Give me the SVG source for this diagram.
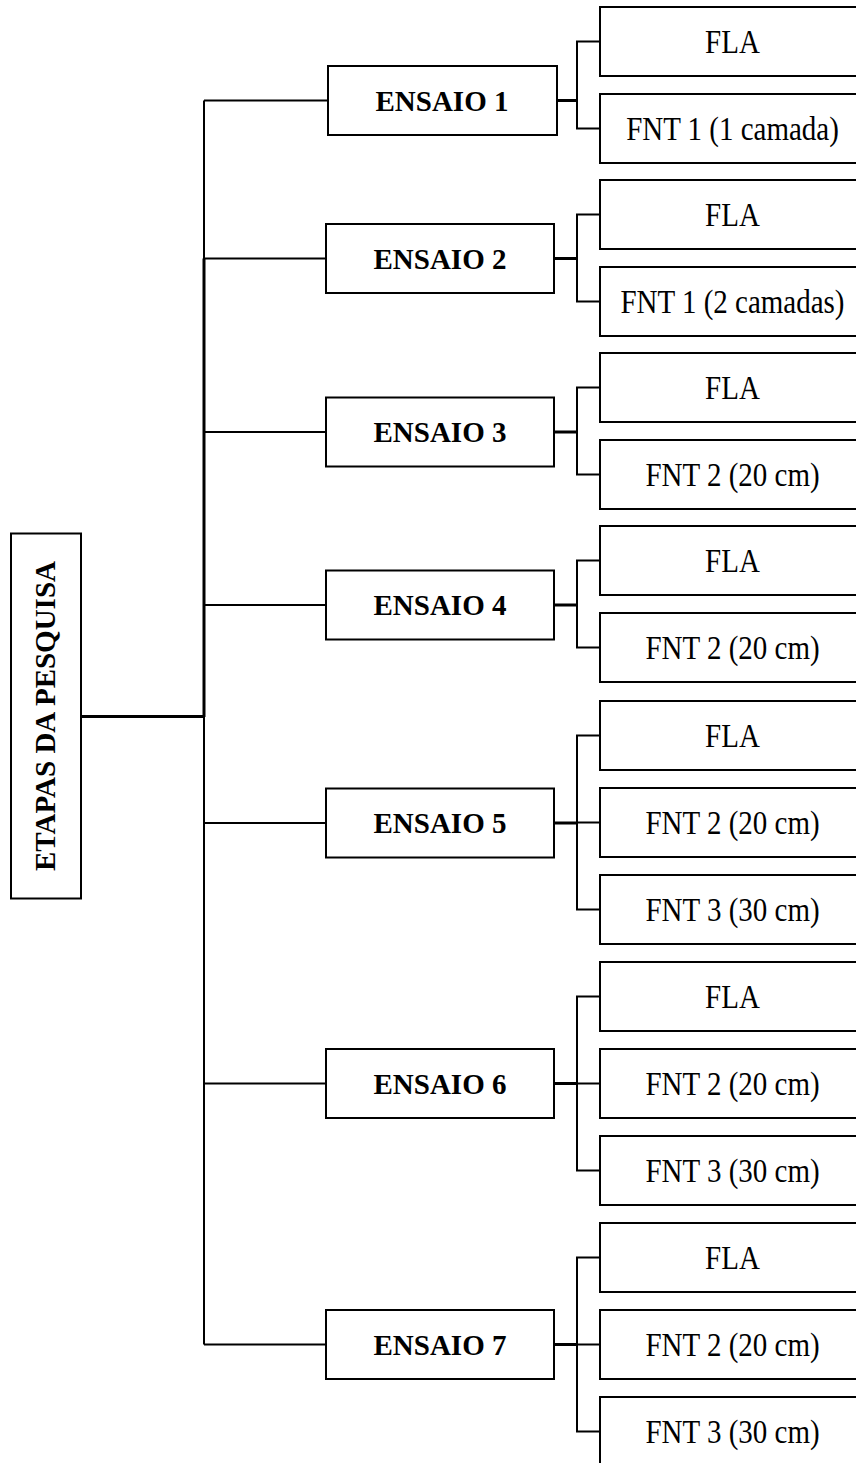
<svg xmlns="http://www.w3.org/2000/svg" width="856" height="1463" viewBox="0 0 856 1463">
<style>
  .box{fill:#fff;stroke:#000;stroke-width:2}
  .ln{fill:none;stroke:#000;stroke-width:2}
  .lt{fill:none;stroke:#000;stroke-width:3}
  .e{font-family:"Liberation Serif","Times New Roman",serif;font-weight:bold;font-size:29px;text-anchor:middle;fill:#000}
  .c{font-family:"Liberation Serif","Times New Roman",serif;font-size:29px;text-anchor:middle;fill:#000}
</style>
<rect width="856" height="1463" fill="#fff"/>
<g id="connectors">
  <path class="ln" d="M204 100.5V1344.5"/>
  <path class="lt" d="M204 258.5V717"/>
  <path class="lt" d="M81 716.5H205"/>
  <path class="ln" d="M204 100.5H328M204 258.5H326M204 432H326M204 605H326M204 823H326M204 1083.5H326M204 1344.5H326"/>
  <path class="lt" d="M557 100.5H577M554 258.5H577M554 432H577M554 605H577M554 823H577M554 1083.5H577M554 1344.5H577"/>
  <path class="ln" d="M600 41.5H577V128.5H600"/>
  <path class="ln" d="M600 214.5H577V301.5H600"/>
  <path class="ln" d="M600 387.5H577V474.5H600"/>
  <path class="ln" d="M600 560.5H577V647.5H600"/>
  <path class="ln" d="M600 735.5H577V909.5H600M577 822.5H600"/>
  <path class="ln" d="M600 996.5H577V1170.5H600M577 1083.5H600"/>
  <path class="ln" d="M600 1257.5H577V1431.5H600M577 1344.5H600"/>
</g>
<g id="root">
  <rect class="box" x="11" y="533.5" width="70" height="365"/>
  <text class="e" transform="translate(55,716) rotate(-90)">ETAPAS DA PESQUISA</text>
</g>
<g id="ensaio1"><rect class="box" x="328" y="66" width="229" height="69"/><text class="e" x="442" y="110.5">ENSAIO 1</text></g>
<g id="ensaio2"><rect class="box" x="326" y="224" width="228" height="69"/><text class="e" x="440" y="268.5">ENSAIO 2</text></g>
<g id="ensaio3"><rect class="box" x="326" y="397.5" width="228" height="69"/><text class="e" x="440" y="442">ENSAIO 3</text></g>
<g id="ensaio4"><rect class="box" x="326" y="570.5" width="228" height="69"/><text class="e" x="440" y="615">ENSAIO 4</text></g>
<g id="ensaio5"><rect class="box" x="326" y="788.5" width="228" height="69"/><text class="e" x="440" y="833">ENSAIO 5</text></g>
<g id="ensaio6"><rect class="box" x="326" y="1049" width="228" height="69"/><text class="e" x="440" y="1093.5">ENSAIO 6</text></g>
<g id="ensaio7"><rect class="box" x="326" y="1310" width="228" height="69"/><text class="e" x="440" y="1354.5">ENSAIO 7</text></g>
<g id="e1-fla"><rect class="box" x="600" y="7" width="266" height="69"/><text class="c" transform="translate(732.5,53) scale(1,1.14)">FLA</text></g>
<g id="e1-fnt1"><rect class="box" x="600" y="94" width="266" height="69"/><text class="c" transform="translate(732.5,140) scale(1,1.14)">FNT 1 (1 camada)</text></g>
<g id="e2-fla"><rect class="box" x="600" y="180" width="266" height="69"/><text class="c" transform="translate(732.5,226) scale(1,1.14)">FLA</text></g>
<g id="e2-fnt1"><rect class="box" x="600" y="267" width="266" height="69"/><text class="c" transform="translate(732.5,313) scale(1,1.14)">FNT 1 (2 camadas)</text></g>
<g id="e3-fla"><rect class="box" x="600" y="353" width="266" height="69"/><text class="c" transform="translate(732.5,399) scale(1,1.14)">FLA</text></g>
<g id="e3-fnt2"><rect class="box" x="600" y="440" width="266" height="69"/><text class="c" transform="translate(732.5,486) scale(1,1.14)">FNT 2 (20 cm)</text></g>
<g id="e4-fla"><rect class="box" x="600" y="526" width="266" height="69"/><text class="c" transform="translate(732.5,572) scale(1,1.14)">FLA</text></g>
<g id="e4-fnt2"><rect class="box" x="600" y="613" width="266" height="69"/><text class="c" transform="translate(732.5,659) scale(1,1.14)">FNT 2 (20 cm)</text></g>
<g id="e5-fla"><rect class="box" x="600" y="701" width="266" height="69"/><text class="c" transform="translate(732.5,747) scale(1,1.14)">FLA</text></g>
<g id="e5-fnt2"><rect class="box" x="600" y="788" width="266" height="69"/><text class="c" transform="translate(732.5,834) scale(1,1.14)">FNT 2 (20 cm)</text></g>
<g id="e5-fnt3"><rect class="box" x="600" y="875" width="266" height="69"/><text class="c" transform="translate(732.5,921) scale(1,1.14)">FNT 3 (30 cm)</text></g>
<g id="e6-fla"><rect class="box" x="600" y="962" width="266" height="69"/><text class="c" transform="translate(732.5,1008) scale(1,1.14)">FLA</text></g>
<g id="e6-fnt2"><rect class="box" x="600" y="1049" width="266" height="69"/><text class="c" transform="translate(732.5,1095) scale(1,1.14)">FNT 2 (20 cm)</text></g>
<g id="e6-fnt3"><rect class="box" x="600" y="1136" width="266" height="69"/><text class="c" transform="translate(732.5,1182) scale(1,1.14)">FNT 3 (30 cm)</text></g>
<g id="e7-fla"><rect class="box" x="600" y="1223" width="266" height="69"/><text class="c" transform="translate(732.5,1269) scale(1,1.14)">FLA</text></g>
<g id="e7-fnt2"><rect class="box" x="600" y="1310" width="266" height="69"/><text class="c" transform="translate(732.5,1356) scale(1,1.14)">FNT 2 (20 cm)</text></g>
<g id="e7-fnt3"><rect class="box" x="600" y="1397" width="266" height="69"/><text class="c" transform="translate(732.5,1443) scale(1,1.14)">FNT 3 (30 cm)</text></g>
</svg>
